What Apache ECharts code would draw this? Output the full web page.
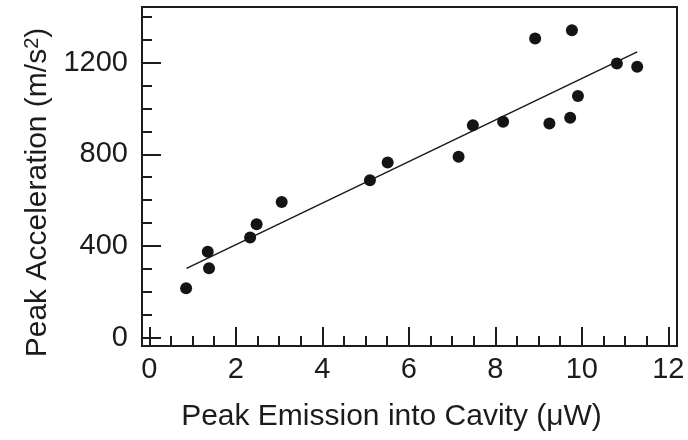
<!DOCTYPE html>
<html>
<head>
<meta charset="utf-8">
<script src="https://cdn.jsdelivr.net/npm/echarts@6/dist/echarts.min.js"></script>
<style>
  html, body { margin: 0; padding: 0; background: #ffffff; }
  #chart { width: 688px; height: 440px; }
</style>
</head>
<body>
<div id="chart"></div>
<script>
// Measured points: peak emission into the cavity (µW) vs. peak acceleration (m/s²)
const emission     = [0.85, 1.35, 1.38, 2.33, 2.48, 3.06, 5.10, 5.51, 7.15, 7.48, 8.18, 8.92, 9.25, 9.73, 9.77, 9.91, 10.81, 11.28];
const acceleration = [215, 374, 302, 437, 495, 592, 687, 764, 789, 927, 942, 1305, 934, 959, 1342, 1054, 1196, 1182];

// Linear fit drawn between its two end points
const fitX = [0.86, 11.28];
const fitY = [302, 1247];

// Tick positions
const xMajorTicks = [0, 2, 4, 6, 8, 10, 12];
const xMinorTicks = [0.5, 1, 1.5, 2.5, 3, 3.5, 4.5, 5, 5.5, 6.5, 7, 7.5, 8.5, 9, 9.5, 10.5, 11, 11.5];
const yMajorTicks = [0, 400, 800, 1200];
const yMinorTicks = [100, 200, 300, 500, 600, 700, 900, 1000, 1100, 1300, 1400];

const xRange = [-0.17, 12.2];
const yRange = [-37, 1443];

const FONT = "'Liberation Sans', Arial, Helvetica, sans-serif";
const INK = '#1c1c1c';

const chart = echarts.init(document.getElementById('chart'), null, { renderer: 'canvas' });

const points = emission.map((x, i) => [x, acceleration[i]]);
const fitLine = fitX.map((x, i) => [x, fitY[i]]);

function baseAxis(extra) {
  return Object.assign({
    type: 'value',
    offset: 0,
    splitLine: { show: false },
    axisLine: { show: true, onZero: false, lineStyle: { color: INK, width: 2 } }
  }, extra);
}

chart.setOption({
  animation: false,
  backgroundColor: '#ffffff',
  grid: {
    left: 142, right: 11, top: 7, bottom: 94,
    show: true, borderColor: INK, borderWidth: 2, backgroundColor: 'transparent'
  },
  xAxis: [
    baseAxis({
      min: xRange[0], max: xRange[1], position: 'bottom',
      axisTick: { show: true, inside: true, length: 19, customValues: xMajorTicks, lineStyle: { color: INK, width: 2 } },
      axisLabel: { show: true, customValues: xMajorTicks, margin: 9, fontSize: 29, fontFamily: FONT, color: INK,
                   formatter: (v) => String(v) },
      name: 'Peak Emission into Cavity (\u03BCW)',
      nameLocation: 'middle', nameGap: 56,
      nameTextStyle: { fontSize: 30, fontFamily: FONT, color: INK, padding: [0, 36, 0, 0] }
    }),
    baseAxis({
      min: xRange[0], max: xRange[1], position: 'bottom',
      axisLine: { show: false, onZero: false },
      axisTick: { show: true, inside: true, length: 10, customValues: xMinorTicks, lineStyle: { color: INK, width: 2 } },
      axisLabel: { show: false }
    })
  ],
  yAxis: [
    baseAxis({
      min: yRange[0], max: yRange[1], position: 'left',
      axisTick: { show: true, inside: true, length: 19, customValues: yMajorTicks, lineStyle: { color: INK, width: 2 } },
      axisLabel: { show: true, customValues: yMajorTicks, margin: 14, fontSize: 29, fontFamily: FONT, color: INK,
                   padding: [6, 0, 0, 0], formatter: (v) => String(v) },
      name: 'Peak Acceleration (m/s{sup|2})',
      nameLocation: 'middle', nameRotate: 90, nameGap: 86,
      nameTextStyle: {
        fontSize: 30, fontFamily: FONT, color: INK, padding: [0, 32, 0, 0],
        rich: { sup: { fontSize: 20, fontFamily: FONT, color: INK, verticalAlign: 'top', lineHeight: 14 } }
      }
    }),
    baseAxis({
      min: yRange[0], max: yRange[1], position: 'left',
      axisLine: { show: false, onZero: false },
      axisTick: { show: true, inside: true, length: 10, customValues: yMinorTicks, lineStyle: { color: INK, width: 2 } },
      axisLabel: { show: false }
    })
  ],
  series: [
    {
      type: 'line',
      xAxisIndex: 0, yAxisIndex: 0,
      data: fitLine,
      symbol: 'none',
      lineStyle: { color: INK, width: 1.6 },
      z: 2
    },
    {
      type: 'scatter',
      xAxisIndex: 0, yAxisIndex: 0,
      data: points,
      symbol: 'circle',
      symbolSize: 12,
      itemStyle: { color: '#141414', opacity: 1 },
      z: 3
    }
  ]
});
</script>
</body>
</html>
